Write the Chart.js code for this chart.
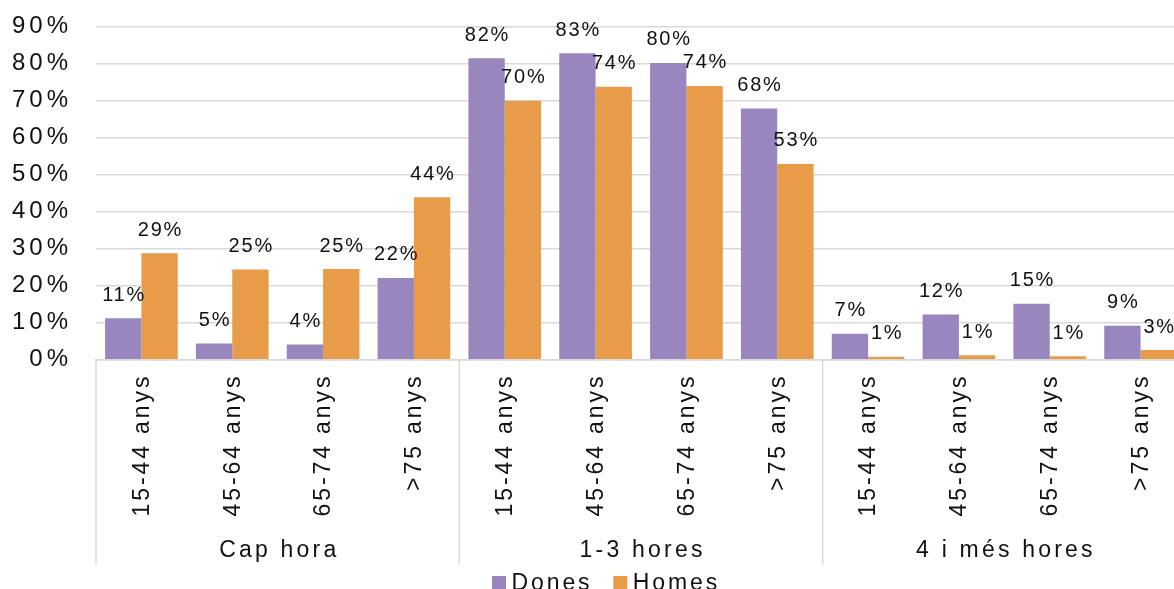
<!DOCTYPE html>
<html><head><meta charset="utf-8">
<script src="https://cdn.jsdelivr.net/npm/chart.js@4/dist/chart.umd.min.js"></script>
<style>
html,body{margin:0;padding:0;background:#fff;overflow:hidden;}
#wrap{width:1174px;height:589px;overflow:hidden;position:relative;background:#fff;}
canvas{display:block;}
</style></head><body>
<div id="wrap"><canvas id="c" width="1186" height="589"></canvas></div>
<script>
const ageGroups = ['15-44 anys','45-64 anys','65-74 anys','>75 anys','15-44 anys','45-64 anys','65-74 anys','>75 anys','15-44 anys','45-64 anys','65-74 anys','>75 anys'];
const hourGroups = ['Cap hora','1-3 hores','4 i més hores'];
const seriesNames = ['Dones','Homes'];
const dones = [11.2, 4.4, 4.1, 22.1, 81.5, 82.8, 80.2, 67.9, 7.0, 12.2, 15.1, 9.2];
const homes = [28.8, 24.4, 24.5, 43.9, 70.0, 73.8, 74.0, 52.9, 0.8, 1.2, 0.9, 2.6];
const donesLabels = ['11%','5%','4%','22%','82%','83%','80%','68%','7%','12%','15%','9%'];
const homesLabels = ['29%','25%','25%','44%','70%','74%','74%','53%','1%','1%','1%','3%'];
const yMax = 90, yStep = 10;

const FONT = "'Liberation Sans', Arial, sans-serif";
const COLORS = ['#9A86BE', '#E89B48'];
const TEXT = '#111111';

const custom = {
  id: 'custom',
  beforeDraw(chart) { chart.ctx.letterSpacing = '4px'; },
  afterDatasetsDraw(chart) {
    const ctx = chart.ctx;
    ctx.save();
    ctx.letterSpacing = '1.8px';
    ctx.font = '20px ' + FONT;
    ctx.fillStyle = TEXT;
    ctx.textAlign = 'center';
    ctx.textBaseline = 'middle';
    const sets = [donesLabels, homesLabels];
    chart.data.datasets.forEach((ds, di) => {
      chart.getDatasetMeta(di).data.forEach((bar, i) => {
        ctx.fillText(sets[di][i], bar.x + 0.9, bar.y - 23);
      });
    });
    ctx.restore();
  },
  afterDraw(chart) {
    const ctx = chart.ctx, x = chart.scales.x, area = chart.chartArea;
    const n = ageGroups.length, w = (x.right - x.left) / n;
    const per = n / hourGroups.length;
    ctx.save();
    ctx.strokeStyle = '#d9d9d9';
    ctx.lineWidth = 1.5;
    for (let g = 0; g <= hourGroups.length; g++) {
      const idx = g * per;
      const px = idx < n ? x.getPixelForValue(idx) - w / 2 : x.getPixelForValue(n - 1) + w / 2;
      ctx.beginPath(); ctx.moveTo(px, area.bottom); ctx.lineTo(px, 565); ctx.stroke();
    }
    ctx.fillStyle = TEXT;
    ctx.font = '23px ' + FONT;
    ctx.letterSpacing = '2.9px';
    ctx.textAlign = 'right';
    ctx.textBaseline = 'middle';
    ageGroups.forEach((lab, i) => {
      const cx = x.getPixelForValue(i);
      ctx.save();
      ctx.translate(cx + 1, area.bottom + 14);
      ctx.rotate(-Math.PI / 2);
      ctx.fillText(lab, 0, 0);
      ctx.restore();
    });
    ctx.textAlign = 'center';
    ctx.letterSpacing = '3.2px';
    hourGroups.forEach((g, gi) => {
      const c = (x.getPixelForValue(gi * per) + x.getPixelForValue(gi * per + per - 1)) / 2;
      ctx.fillText(g, c + 1.6, 551);
    });
    // legend
    ctx.letterSpacing = '2.9px';
    ctx.textAlign = 'left';
    ctx.textBaseline = 'alphabetic';
    let lx = 492;
    seriesNames.forEach((name, i) => {
      ctx.fillStyle = COLORS[i];
      ctx.fillRect(lx, 576, 14, 14);
      ctx.fillStyle = TEXT;
      ctx.fillText(name, lx + 19.5, 590);
      lx += 121.3;
    });
    ctx.restore();
    ctx.letterSpacing = '0px';
  }
};

new Chart(document.getElementById('c'), {
  type: 'bar',
  data: {
    labels: ageGroups,
    datasets: [
      { label: seriesNames[0], data: dones, backgroundColor: COLORS[0], categoryPercentage: 0.8, barPercentage: 1.0 },
      { label: seriesNames[1], data: homes, backgroundColor: COLORS[1], categoryPercentage: 0.8, barPercentage: 1.0 }
    ]
  },
  options: {
    responsive: false,
    animation: false,
    events: [],
    layout: { padding: { top: 26.7, left: 0, right: 0, bottom: 0 } },
    plugins: { legend: { display: false }, tooltip: { enabled: false } },
    scales: {
      x: {
        grid: { display: false },
        border: { display: true, color: '#d9d9d9', width: 1.5 },
        ticks: { display: false },
        afterFit(s) { s.height = 229.3; s.paddingLeft = 0; s.paddingRight = 0; }
      },
      y: {
        min: 0, max: yMax,
        grid: { color: '#d9d9d9', lineWidth: 1.5, drawTicks: false },
        border: { display: false },
        ticks: {
          stepSize: yStep, padding: 24, color: TEXT,
          font: { family: FONT, size: 24 },
          callback: v => v + '%'
        },
        afterFit(s) { s.width = 96; s.paddingTop = 0; s.paddingBottom = 0; }
      }
    }
  },
  plugins: [custom]
});
</script>
</body></html>
